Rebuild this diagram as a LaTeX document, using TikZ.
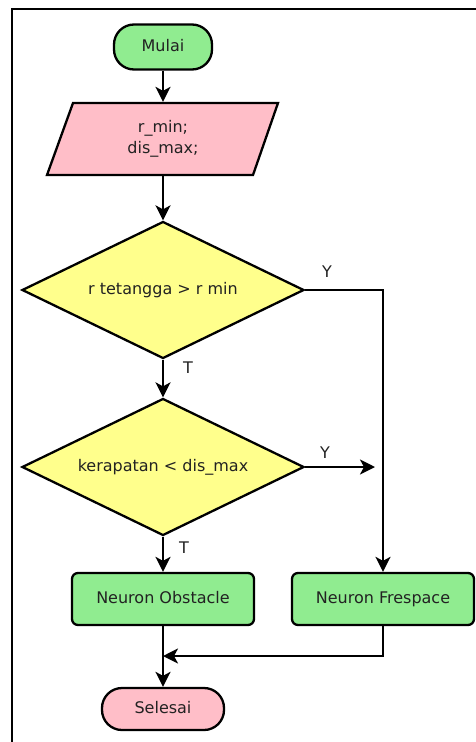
\documentclass[tikz,border=0pt]{standalone}
\usepackage{fontspec}
\setmainfont{DejaVu Sans}
\usetikzlibrary{shapes.geometric,arrows.meta}
\definecolor{tgreen}{RGB}{144,236,144}
\definecolor{tpink}{RGB}{255,190,200}
\definecolor{tyellow}{RGB}{255,255,140}
\definecolor{ttext}{RGB}{34,34,34}
\begin{document}
\begin{tikzpicture}[x=1pt,y=-1pt,line width=2.3pt,
  every node/.style={font=\fontsize{16}{21}\selectfont, text=ttext},
  term/.style={draw, rounded corners=20pt, minimum width=#1, inner sep=0pt, text height=12pt, text depth=3pt},
  proc/.style={draw, fill=tgreen, rounded corners=6pt, minimum width=182pt, minimum height=52pt, inner sep=0pt, text height=12pt, text depth=3pt},
  decide/.style={diamond, aspect=2, draw, fill=tyellow, minimum width=282pt, minimum height=137pt, inner sep=0pt, text height=12pt, text depth=3pt},
  arr/.style={-{Stealth[length=15pt,width=15pt,inset=4pt]}},
  lbl/.style={inner sep=0pt}]
\useasboundingbox (0,0) rectangle (476,742);
\draw[line width=2.3pt] (476,9) -- (12,9) -- (12,742);

\node[term=98pt, minimum height=45pt, fill=tgreen] (start) at (163,47) {Mulai};

\draw[fill=tpink] (73,103) -- (278,103) -- (253,175) -- (47,175) -- cycle;
\node[minimum width=206pt, minimum height=72pt, inner sep=0pt, align=center] (inp) at (163,139) {r\_min;\\dis\_max;};

\node[decide] (d1) at (163,290) {r tetangga > r min};
\node[decide] (d2) at (163,467) {kerapatan < dis\_max};

\node[proc] (obs) at (163,599) {Neuron Obstacle};
\node[proc] (fs) at (383,599) {Neuron Frespace};

\node[term=122pt, minimum height=42pt, fill=tpink] (end) at (163,709) {Selesai};

\node[lbl] (y1) at (327,272) {Y};
\node[lbl] (t1) at (188,368) {T};
\node[lbl] (y2) at (325,453) {Y};
\node[lbl] (t2) at (184,548) {T};

\coordinate (yend) at (375,467);
\coordinate (m) at (163,656);

\draw[arr] (start) -- (inp);
\draw[arr] (inp) -- (d1);
\draw[arr] (d1.east) -| (fs.north);
\draw[arr] (d1) -- (d2);
\draw[arr] (d2.east) -- (yend);
\draw[arr] (d2) -- (obs);
\draw[arr] (obs) -- (end);
\draw[arr] (fs.south) |- (m);
\end{tikzpicture}
\end{document}
